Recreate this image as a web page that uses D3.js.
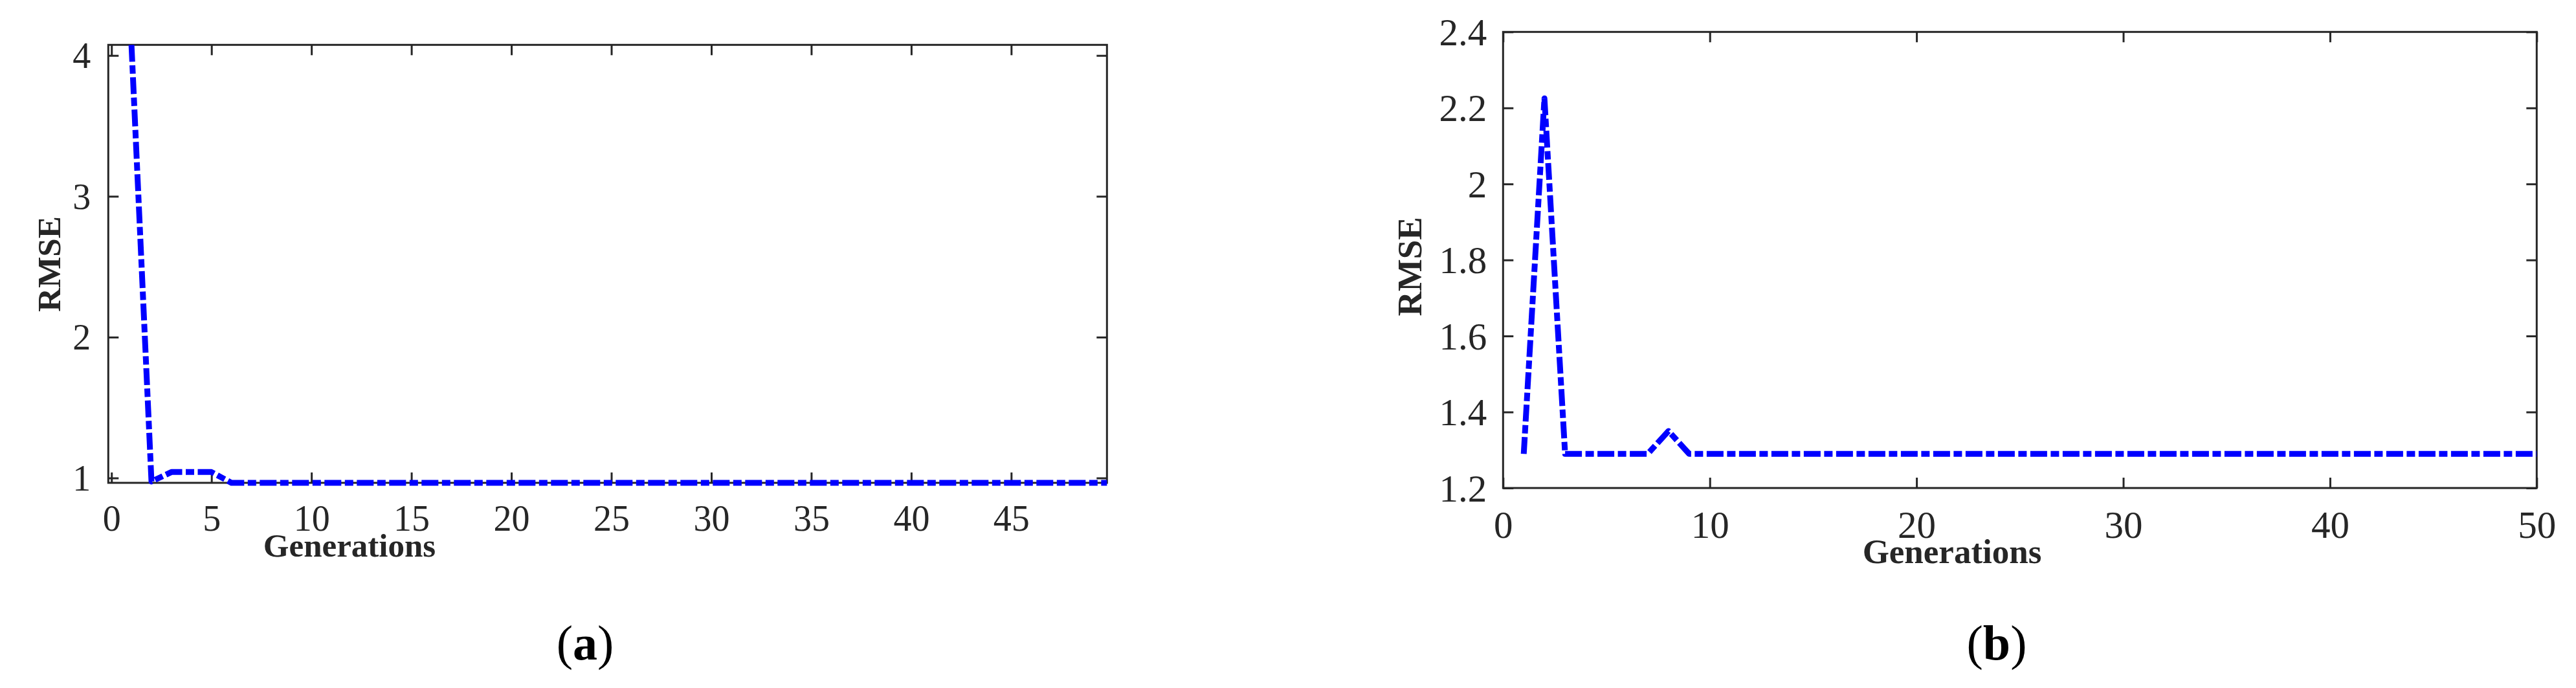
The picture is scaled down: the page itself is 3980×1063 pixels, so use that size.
<!DOCTYPE html>
<html>
<head>
<meta charset="utf-8">
<script src="https://cdn.jsdelivr.net/npm/d3@7/dist/d3.min.js"></script>
<style>
  html, body { margin: 0; padding: 0; background: #ffffff; }
  svg { display: block; }
  text { font-family: "Liberation Serif", "Times New Roman", Times, serif; }
</style>
</head>
<body>
<svg id="chart" width="3980" height="1063"></svg>
<script>
// ---------------- data ----------------
const generations = [1,2,3,4,5,6,7,8,9,10,11,12,13,14,15,16,17,18,19,20,21,22,23,24,25,
  26,27,28,29,30,31,32,33,34,35,36,37,38,39,40,41,42,43,44,45,46,47,48,49,50];

const rmseA = [4.075, 0.975, 1.042, 1.042, 1.042, 0.9655, 0.9655, 0.9655, 0.9655, 0.9655,
  0.9655, 0.9655, 0.9655, 0.9655, 0.9655, 0.9655, 0.9655, 0.9655, 0.9655, 0.9655,
  0.9655, 0.9655, 0.9655, 0.9655, 0.9655, 0.9655, 0.9655, 0.9655, 0.9655, 0.9655,
  0.9655, 0.9655, 0.9655, 0.9655, 0.9655, 0.9655, 0.9655, 0.9655, 0.9655, 0.9655,
  0.9655, 0.9655, 0.9655, 0.9655, 0.9655, 0.9655, 0.9655, 0.9655, 0.9655, 0.9655];

const rmseB = [1.29, 2.225, 1.29, 1.29, 1.29, 1.29, 1.29, 1.35, 1.29, 1.29,
  1.29, 1.29, 1.29, 1.29, 1.29, 1.29, 1.29, 1.29, 1.29, 1.29,
  1.29, 1.29, 1.29, 1.29, 1.29, 1.29, 1.29, 1.29, 1.29, 1.29,
  1.29, 1.29, 1.29, 1.29, 1.29, 1.29, 1.29, 1.29, 1.29, 1.29,
  1.29, 1.29, 1.29, 1.29, 1.29, 1.29, 1.29, 1.29, 1.29, 1.29];

const xTicksA = [0, 5, 10, 15, 20, 25, 30, 35, 40, 45];
const yTicksA = [1, 2, 3, 4];
const xTicksB = [0, 10, 20, 30, 40, 50];
const yTicksB = [1.2, 1.4, 1.6, 1.8, 2, 2.2, 2.4];

const xLimA = [-0.16, 49.79];
const yLimA = [0.9655, 4.0754];
const xLimB = [0, 50];
const yLimB = [1.2, 2.4];

const xLabel = "Generations";
const yLabel = "RMSE";
const panelTags = ["a", "b"];

// ---------------- drawing ----------------
const svg = d3.select("#chart");
const FONT = '"Liberation Serif", "Times New Roman", Times, serif';
const AX = "#262626";

function drawPanel(o) {
  const x = d3.scaleLinear().domain(o.xLim).range([o.left, o.right]);
  const y = d3.scaleLinear().domain(o.yLim).range([o.bottom, o.top]);
  const g = svg.append("g");

  const clipId = "clip" + o.tag;
  svg.append("clipPath").attr("id", clipId)
    .append("rect").attr("x", o.left).attr("y", o.top - 40)
    .attr("width", o.right - o.left).attr("height", o.bottom - o.top + 80);

  const tl = 16;
  const bottomAx = d3.axisBottom(x).tickValues(o.xTicks).tickSize(-tl).tickSizeOuter(0)
    .tickFormat(d3.format("~g"));
  const topAx = d3.axisTop(x).tickValues(o.xTicks).tickSize(-tl).tickSizeOuter(0).tickFormat("");
  const leftAx = d3.axisLeft(y).tickValues(o.yTicks).tickSize(-tl).tickSizeOuter(0)
    .tickFormat(d3.format("~g"));
  const rightAx = d3.axisRight(y).tickValues(o.yTicks).tickSize(-tl).tickSizeOuter(0).tickFormat("");

  const gb = g.append("g").attr("transform", `translate(0,${o.bottom})`).call(bottomAx);
  const gt = g.append("g").attr("transform", `translate(0,${o.top})`).call(topAx);
  const gl = g.append("g").attr("transform", `translate(${o.left},0)`).call(leftAx);
  const gr = g.append("g").attr("transform", `translate(${o.right},0)`).call(rightAx);

  [gb, gt, gl, gr].forEach(a => {
    a.select(".domain").remove();
    a.attr("font-family", FONT);
    a.selectAll(".tick line").attr("stroke", AX).attr("stroke-width", 3);
  });
  gb.selectAll(".tick text")
    .attr("y", o.xLabelBase - o.bottom).attr("dy", null)
    .attr("font-family", FONT)
    .attr("font-size", o.tickFs).attr("fill", AX);
  gl.selectAll(".tick text")
    .attr("x", -o.yPad).attr("dy", "0.34em")
    .attr("font-family", FONT)
    .attr("font-size", o.tickFs).attr("fill", AX);

  g.append("rect")
    .attr("x", o.left).attr("y", o.top)
    .attr("width", o.right - o.left).attr("height", o.bottom - o.top)
    .attr("fill", "none").attr("stroke", AX).attr("stroke-width", 3);

  const line = d3.line().x((d, i) => x(generations[i])).y(d => y(d));
  g.append("path")
    .datum(o.values)
    .attr("clip-path", `url(#${clipId})`)
    .attr("d", line)
    .attr("fill", "none")
    .attr("stroke", "#0000ff")
    .attr("stroke-width", 9)
    .attr("stroke-linecap", "butt")
    .attr("stroke-linejoin", "round")
    .attr("stroke-dasharray", "26 5.5 13 5.5");

  g.append("text")
    .attr("x", o.genX).attr("y", o.genY)
    .attr("text-anchor", "middle")
    .attr("font-family", FONT).attr("font-weight", "bold")
    .attr("font-size", o.labelFs).attr("fill", AX)
    .text(xLabel);
  g.append("text")
    .attr("transform", `translate(${o.rmseX},${o.rmseY}) rotate(-90)`)
    .attr("text-anchor", "middle")
    .attr("font-family", FONT).attr("font-weight", "bold")
    .attr("font-size", o.labelFs).attr("fill", AX)
    .text(yLabel);

  const t = g.append("text")
    .attr("x", o.tagX).attr("y", 1019)
    .attr("text-anchor", "middle")
    .attr("font-family", FONT).attr("font-size", 76).attr("fill", "#000");
  t.append("tspan").text("(");
  t.append("tspan").attr("font-weight", "bold").text(o.tag);
  t.append("tspan").text(")");
}

drawPanel({
  tag: panelTags[0], values: rmseA, xLim: xLimA, yLim: yLimA,
  xTicks: xTicksA, yTicks: yTicksA,
  left: 167.3, right: 1710.3, top: 69.3, bottom: 746,
  tickFs: 56, labelFs: 51, yPad: 27, xLabelBase: 820,
  genX: 540, genY: 860, rmseX: 93, rmseY: 408, tagX: 904
});

drawPanel({
  tag: panelTags[1], values: rmseB, xLim: xLimB, yLim: yLimB,
  xTicks: xTicksB, yTicks: yTicksB,
  left: 2322.3, right: 3919.3, top: 49.3, bottom: 754,
  tickFs: 59, labelFs: 53, yPad: 25, xLabelBase: 831,
  genX: 3016, genY: 870, rmseX: 2196, rmseY: 412, tagX: 3085
});
</script>
</body>
</html>
